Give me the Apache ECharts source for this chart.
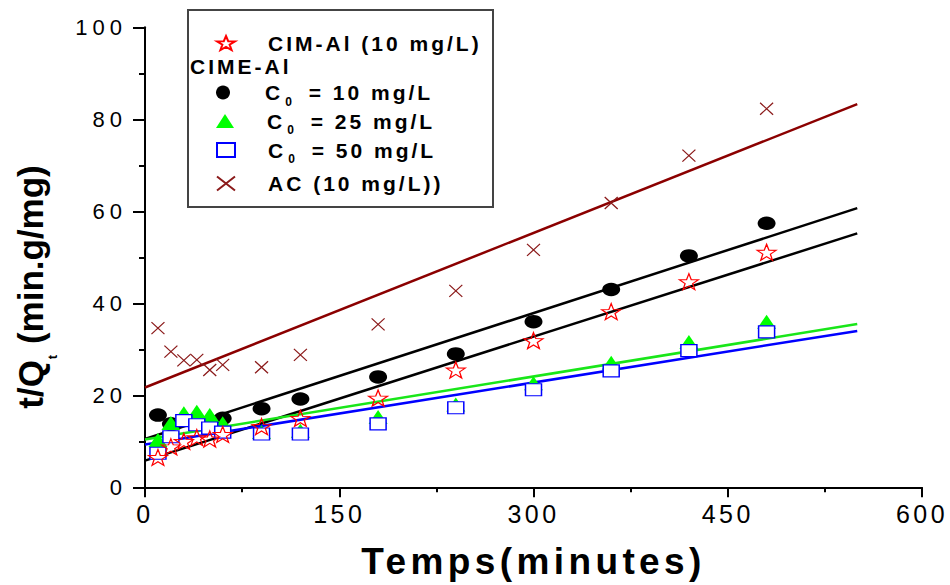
<!DOCTYPE html>
<html>
<head>
<meta charset="utf-8">
<script src="https://cdn.jsdelivr.net/npm/echarts@6/dist/echarts.min.js"></script>
<style>
  html, body { margin: 0; padding: 0; background: #fff; }
  #chart { width: 950px; height: 585px; }
  /* wide tracking of the plot's lettering, keyed on font size */
  #chart text[style*="22px"] { letter-spacing: 5px; }
  #chart text[style*="25px"] { letter-spacing: 3.5px; }
  #chart text[style*="21px"] { letter-spacing: 3px; }
  #chart text[style*="37px"] { letter-spacing: 4.4px; }
</style>
</head>
<body>
<div id="chart"></div>
<script>
const FONT = '"Liberation Sans", Arial, Helvetica, sans-serif';

// Sampling times (minutes)
const timesAll = [10, 20, 30, 40, 50, 60, 90, 120, 180, 240, 300, 360, 420, 480];
const timesC10 = [10, 20, 60, 90, 120, 180, 240, 300, 360, 420, 480];

// t/Qt (min.g/mg)
const cimAl10 = [6.5, 8.8, 10.0, 10.8, 10.5, 11.5, 13.2, 15.0, 19.4, 25.5, 31.9, 38.2, 44.7, 51.1];
const cimeC10 = [15.7, 13.8, 15.0, 17.1, 19.2, 24.0, 29.0, 36.0, 43.0, 50.3, 57.4];
const cimeC25 = [10.3, 14.0, 16.1, 16.4, 15.7, 13.9, 12.0, 12.3, 15.3, 18.0, 22.6, 27.1, 31.6, 36.0];
const cimeC50 = [7.4, 11.0, 14.5, 13.6, 12.9, 12.0, 11.6, 11.6, 13.8, 17.3, 21.2, 25.3, 29.7, 33.8];
const ac10 = [34.6, 29.5, 27.6, 27.7, 25.5, 26.6, 26.1, 28.8, 35.4, 42.7, 51.6, 61.8, 72.1, 82.3];

// Linear fits (pseudo-second-order): t/Qt at the two ends of the fitted range
const fitRange = [0, 550];
const fitCimAl = [5.8, 55.2];
const fitC10 = [10.5, 60.7];
const fitC25 = [10.4, 35.5];
const fitC50 = [9.3, 34.0];
const fitAC = [21.7, 83.3];

// Axis scales
const xScale = [0, 600, 150];
const yScale = [0, 100, 20];

// Series names
const names = ['CIM-Al (10 mg/L)', 'C0 = 10 mg/L', 'C0 = 25 mg/L', 'C0 = 50 mg/L', 'AC (10 mg/L))'];
const groupTitle = 'CIME-Al';
const xTitle = 'Temps(minutes)';

const pair = (xs, ys) => xs.map((x, i) => [x, ys[i]]);

const STAR = 'path://M10,0L12.35,6.76L19.51,6.91L13.8,11.24L15.88,18.09L10,14L4.12,18.09L6.2,11.24L0.49,6.91L7.65,6.76Z';
const CROSS = 'path://M0,0L10,10M10,0L0,10';

// letter spacing by font size (px -> px)
const TRACKING = { 22: 5, 25: 3.5, 21: 3, 37: 4.4 };

function fitLine(vals, color) {
  return {
    type: 'line', data: pair(fitRange, vals), symbol: 'none', silent: true, z: 2,
    lineStyle: { color: color, width: 2.5 }
  };
}

const legendRich = {
  a: { fontFamily: FONT, fontWeight: 'bold', fontSize: 21, lineHeight: 14, color: '#000' },
  s: { fontFamily: FONT, fontWeight: 'bold', fontSize: 12, lineHeight: 14, color: '#000', padding: [18, 8, 0, 5] }
};

function legendFmt(name) {
  if (name.indexOf('C0') === 0) return '{a|C}{s|0}{a|' + name.slice(2) + '}';
  return '{a|' + name + '}';
}

function legendAt(name, top) {
  return {
    data: [name], left: 216, top: top, orient: 'vertical', padding: 0,
    itemWidth: 18, itemHeight: 14, symbolKeepAspect: false, selectedMode: false,
    formatter: legendFmt,
    textStyle: { color: '#000', fontFamily: FONT, fontWeight: 'bold', fontSize: 21, lineHeight: 14,
                 padding: [0, 0, 0, 28], rich: legendRich }
  };
}

const chart = echarts.init(document.getElementById('chart'), null, { renderer: 'svg' });

function applyTracking() {
  document.querySelectorAll('#chart text').forEach(function (t) {
    const fs = Math.round(parseFloat(getComputedStyle(t).fontSize));
    if (TRACKING[fs] != null) t.setAttribute('letter-spacing', TRACKING[fs] + 'px');
  });
}
chart.on('finished', applyTracking);

chart.setOption({
  animation: false,
  backgroundColor: '#fff',
  grid: { left: 145, right: 28, top: 27.3, bottom: 97.7, outerBoundsMode: 'none' },
  xAxis: {
    type: 'value', min: xScale[0], max: xScale[1], interval: xScale[2],
    name: xTitle, nameLocation: 'middle', nameGap: 56,
    nameTextStyle: { fontFamily: FONT, fontWeight: 'bold', fontSize: 37, lineHeight: 37, color: '#000' },
    axisLine: { show: true, onZero: false, lineStyle: { color: '#000', width: 2 } },
    axisTick: { show: true, inside: false, length: 10, lineStyle: { color: '#000', width: 2 } },
    minorTick: { show: true, splitNumber: 2, length: 5, lineStyle: { color: '#000', width: 2 } },
    axisLabel: { fontFamily: FONT, fontSize: 25, color: '#000', margin: 14, lineHeight: 25 },
    splitLine: { show: false }
  },
  yAxis: {
    type: 'value', min: yScale[0], max: yScale[1], interval: yScale[2],
    axisLine: { show: true, onZero: false, lineStyle: { color: '#000', width: 2 } },
    axisTick: { show: true, inside: false, length: 12, lineStyle: { color: '#000', width: 2 } },
    minorTick: { show: true, splitNumber: 2, length: 6, lineStyle: { color: '#000', width: 2 } },
    axisLabel: { fontFamily: FONT, fontSize: 22, color: '#000', margin: 18 },
    splitLine: { show: false }
  },
  legend: [
    legendAt(names[0], 32.5),
    legendAt(names[1], 77.5),
    legendAt(names[2], 106),
    legendAt(names[3], 135),
    legendAt(names[4], 173)
  ],
  graphic: [
    {
      type: 'rect', z: 0, silent: true,
      shape: { x: 188, y: 10, width: 305, height: 197 },
      style: { fill: 'none', stroke: '#444', lineWidth: 2 }
    },
    {
      type: 'text', x: 190, y: 66.7, silent: true,
      style: { text: groupTitle, fontFamily: FONT, fontWeight: 'bold', fontSize: 21,
               fill: '#000', align: 'left', verticalAlign: 'middle' }
    },
    {
      type: 'text', x: 30, y: 287, rotation: Math.PI / 2, silent: true,
      style: {
        text: '{a|t/Q}{s|t}{a| (min.g/mg)}',
        align: 'center', verticalAlign: 'middle', fill: '#000',
        rich: {
          a: { fontFamily: FONT, fontWeight: 'bold', fontSize: 35, lineHeight: 35, fill: '#000' },
          s: { fontFamily: FONT, fontWeight: 'bold', fontSize: 13, lineHeight: 13, fill: '#000', padding: [44, 1, 0, 1] }
        }
      }
    }
  ],
  series: [
    fitLine(fitAC, '#8B0000'),
    fitLine(fitC10, '#000000'),
    fitLine(fitCimAl, '#000000'),
    fitLine(fitC25, '#19e619'),
    fitLine(fitC50, '#0000ff'),
    {
      name: names[1], type: 'scatter', z: 3, data: pair(timesC10, cimeC10),
      symbol: 'circle', symbolSize: [18, 13.5],
      itemStyle: { color: '#000', opacity: 1 }
    },
    {
      name: names[2], type: 'scatter', z: 3, data: pair(timesAll, cimeC25),
      symbol: 'triangle', symbolSize: [19, 14],
      itemStyle: { color: '#00ff00', opacity: 1 }
    },
    {
      name: names[3], type: 'scatter', z: 3, data: pair(timesAll, cimeC50),
      symbol: 'rect', symbolSize: [16, 12],
      itemStyle: { color: '#fff', borderColor: '#0000ff', borderWidth: 1.3, opacity: 1 }
    },
    {
      name: names[0], type: 'scatter', z: 3, data: pair(timesAll, cimAl10),
      symbol: STAR, symbolSize: [19, 16],
      itemStyle: { color: 'rgba(255,255,255,0)', borderColor: '#ff0000', borderWidth: 1.2, opacity: 1 }
    },
    {
      name: names[4], type: 'scatter', z: 3, data: pair(timesAll, ac10),
      symbol: CROSS, symbolSize: [13, 12],
      itemStyle: { color: 'rgba(255,255,255,0)', borderColor: '#8B1A1A', borderWidth: 1.2, opacity: 1 }
    }
  ]
});
applyTracking();
setTimeout(applyTracking, 50);
setTimeout(applyTracking, 300);
</script>
</body>
</html>
